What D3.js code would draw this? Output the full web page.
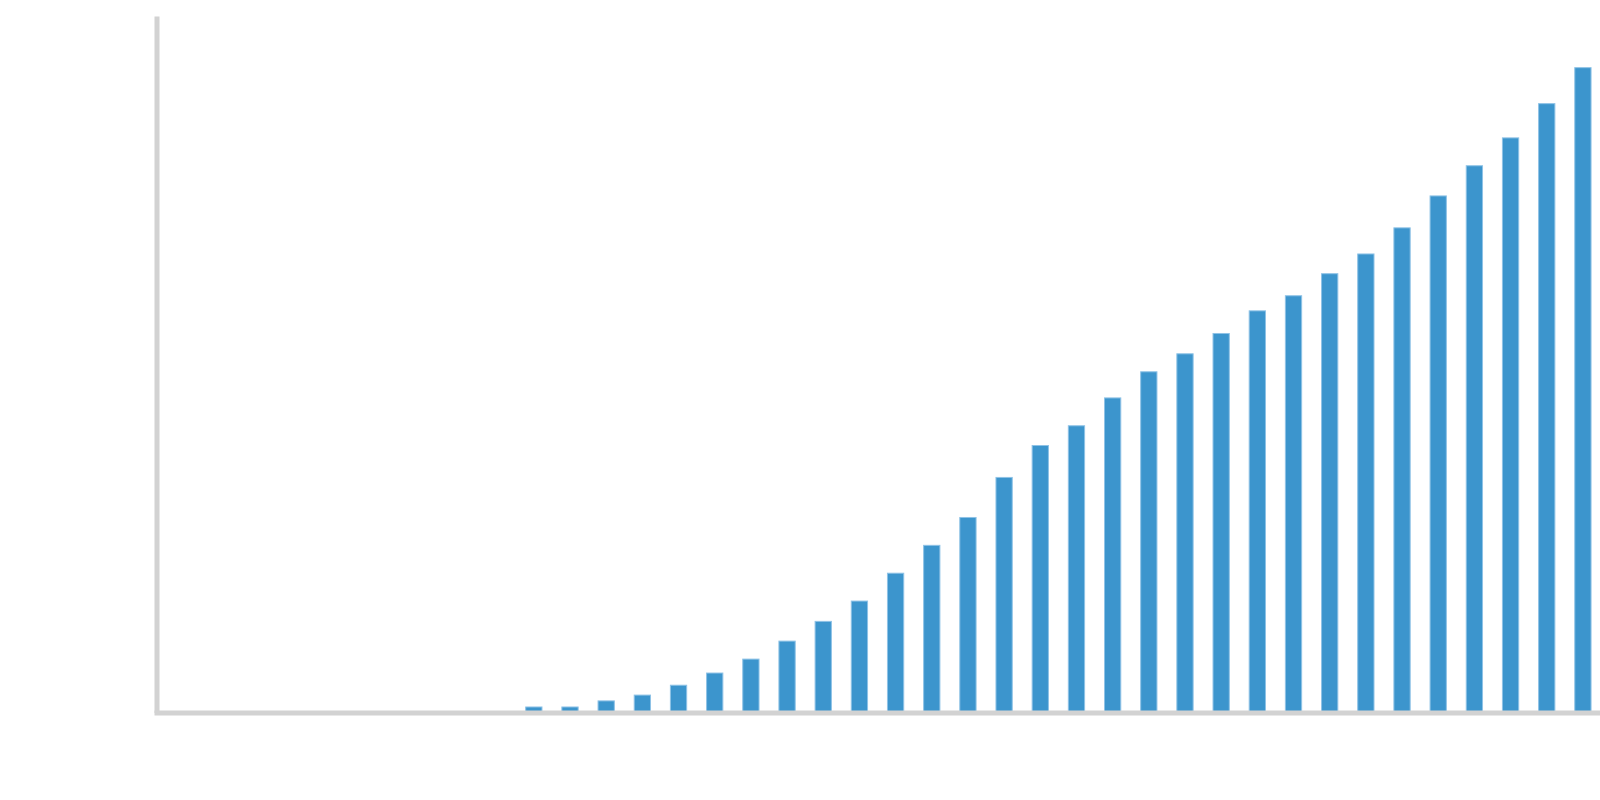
<!DOCTYPE html>
<html>
<head>
<meta charset="utf-8">
<script src="https://cdn.jsdelivr.net/npm/d3@7"></script>
<style>
  html, body { margin: 0; padding: 0; background: #fff; }
  svg { display: block; }
</style>
</head>
<body>
<div id="chart-container"></div>
<script>
// Categories (no labels shown in the chart, one per band)
const years = [
  1980, 1981, 1982, 1983, 1984, 1985, 1986, 1987, 1988, 1989,
  1990, 1991, 1992, 1993, 1994, 1995, 1996, 1997, 1998, 1999,
  2000, 2001, 2002, 2003, 2004, 2005, 2006, 2007, 2008, 2009,
  2010, 2011, 2012, 2013, 2014, 2015, 2016, 2017, 2018, 2019
];

// Values
const values = [
  0, 0, 0, 0, 0, 0, 0, 0, 0, 0,
  0.95, 0.95, 2.0, 3.0, 4.7, 6.8, 9.2, 12.3, 15.7, 19.2,
  24.0, 28.8, 33.6, 40.5, 46.0, 49.4, 54.2, 58.7, 61.8, 65.3,
  69.2, 71.8, 75.6, 79.0, 83.5, 89.0, 94.2, 99.0, 104.9, 111.1
];

const yMax = 120;

function drawChart() {
  const width = 1600;
  const height = 800;
  const margin = { top: 16, right: -1, bottom: 87.5, left: 154 };

  const data = years.map((y, i) => ({ year: y, value: values[i] }));

  const x = d3
    .scaleBand()
    .domain(years)
    .range([margin.left, width - margin.right])
    .paddingInner(0.55)
    .paddingOuter(0.275);

  const y = d3
    .scaleLinear()
    .domain([0, yMax])
    .range([height - margin.bottom, margin.top]);

  const svg = d3
    .create("svg")
    .attr("width", width)
    .attr("height", height)
    .attr("viewBox", [0, 0, width, height]);

  document.getElementById("chart-container").appendChild(svg.node());

  // Bars (zero values draw nothing)
  svg
    .append("g")
    .selectAll("rect")
    .data(data.filter((d) => d.value > 0))
    .join("rect")
    .attr("x", (d) => x(d.year))
    .attr("y", (d) => y(d.value))
    .attr("width", x.bandwidth())
    .attr("height", (d) => y(0) - y(d.value))
    .attr("fill", "#3c95cd")
    .attr("stroke", "#8ec2e6")
    .attr("stroke-width", 1);

  // Y axis: just the domain line
  const yAxis = svg
    .append("g")
    .attr("transform", `translate(${margin.left + 2.5},0)`)
    .call(d3.axisLeft(y).tickValues([]).tickSizeOuter(0));

  // X axis: just the domain line
  const xAxis = svg
    .append("g")
    .attr("transform", `translate(0,${y(0)})`)
    .call(d3.axisBottom(x).tickValues([]).tickSizeOuter(0));

  [yAxis, xAxis].forEach((g) =>
    g.select(".domain").attr("stroke", "#d2d2d2").attr("stroke-width", 5)
  );
}

drawChart();
</script>
</body>
</html>
